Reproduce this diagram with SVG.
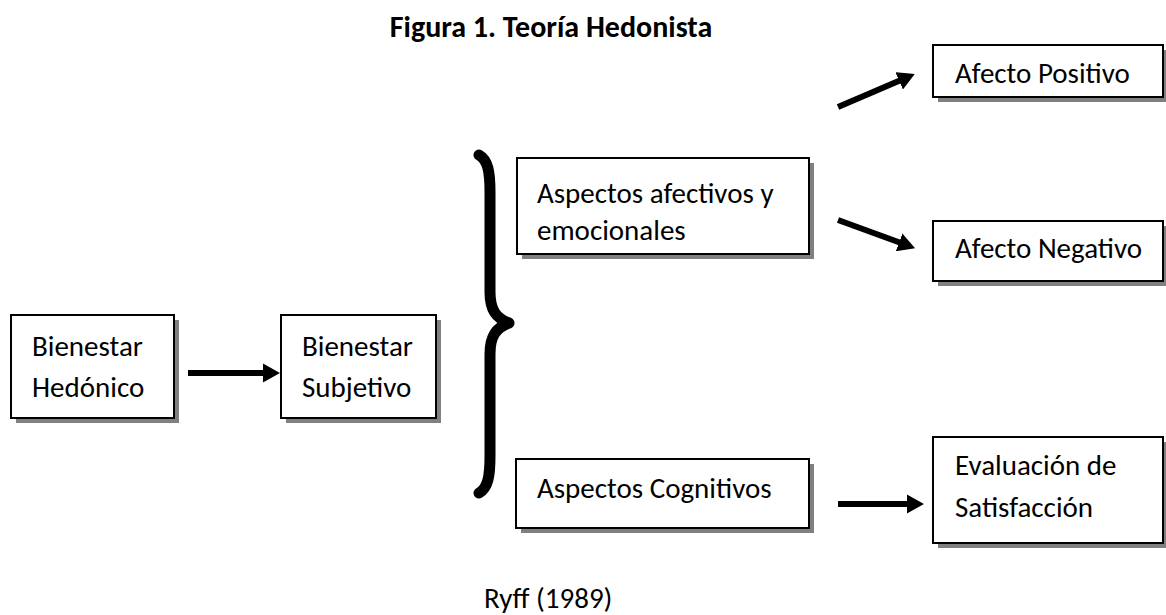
<svg xmlns="http://www.w3.org/2000/svg" width="1166" height="615" viewBox="0 0 1166 615">
<style>
.box{fill:#fff;stroke:#000;stroke-width:2}
.sh{fill:#808080}
.t{font-family:Carlito,Lato,"Liberation Sans",sans-serif;font-size:29px;fill:#000}
.title{font-family:Carlito,Lato,"Liberation Sans",sans-serif;font-size:30px;font-weight:bold;fill:#000}
.ar{stroke:#000;stroke-width:6;fill:none}
</style>
<defs>
<marker id="ah" viewBox="0 0 17 19" refX="2" refY="9.5" markerWidth="2.83" markerHeight="3.17" orient="auto" markerUnits="strokeWidth">
<path d="M0,0 L17,9.5 L0,19 Z" fill="#000"/>
</marker>
</defs>
<rect width="1166" height="615" fill="#fff"/>
<text class="title" x="551" y="37" text-anchor="middle">Figura 1. Teoría Hedonista</text>

<g id="n-hedonico">
<rect class="sh" x="16" y="320" width="163" height="103"/>
<rect class="box" x="11" y="315" width="163" height="103"/>
<text class="t" x="32" y="356">Bienestar</text>
<text class="t" x="32" y="397">Hedónico</text>
</g>
<g id="n-subjetivo">
<rect class="sh" x="286" y="320" width="155" height="103"/>
<rect class="box" x="281" y="315" width="155" height="103"/>
<text class="t" x="302" y="356">Bienestar</text>
<text class="t" x="302" y="397">Subjetivo</text>
</g>
<g id="n-brace">
<path d="M479,155 C488,160 490,172 490,192 L490,292 C490,310 496,318 509,323 C496,328 490,336 490,354 L490,456 C490,476 488,488 479,493" fill="none" stroke="#000" stroke-width="11" stroke-linecap="round" stroke-linejoin="round"/>
</g>
<g id="n-afectivos">
<rect class="sh" x="522" y="163" width="292" height="96"/>
<rect class="box" x="517" y="158" width="292" height="96"/>
<text class="t" x="537" y="203">Aspectos afectivos y</text>
<text class="t" x="537" y="240">emocionales</text>
</g>
<g id="n-positivo">
<rect class="sh" x="938" y="50" width="230" height="52"/>
<rect class="box" x="933" y="45" width="230" height="52"/>
<text class="t" x="955" y="83">Afecto Positivo</text>
</g>
<g id="n-negativo">
<rect class="sh" x="938" y="226" width="230" height="60"/>
<rect class="box" x="933" y="221" width="230" height="60"/>
<text class="t" x="955" y="258">Afecto Negativo</text>
</g>
<g id="n-cognitivos">
<rect class="sh" x="521" y="464" width="293" height="69"/>
<rect class="box" x="516" y="459" width="293" height="69"/>
<text class="t" x="537" y="498">Aspectos Cognitivos</text>
</g>
<g id="n-evaluacion">
<rect class="sh" x="938" y="442" width="230" height="106"/>
<rect class="box" x="933" y="437" width="230" height="106"/>
<text class="t" x="955" y="475">Evaluación de</text>
<text class="t" x="955" y="517">Satisfacción</text>
</g>
<g id="connectors">
<line class="ar" x1="188" y1="373" x2="265" y2="373" marker-end="url(#ah)"/>
<line class="ar" x1="838" y1="107" x2="901" y2="80" marker-end="url(#ah)"/>
<line class="ar" x1="838" y1="220" x2="901" y2="243" marker-end="url(#ah)"/>
<line class="ar" x1="838" y1="504" x2="909" y2="504" marker-end="url(#ah)"/>
</g>
<text class="t" x="484" y="608">Ryff (1989)</text>
</svg>
